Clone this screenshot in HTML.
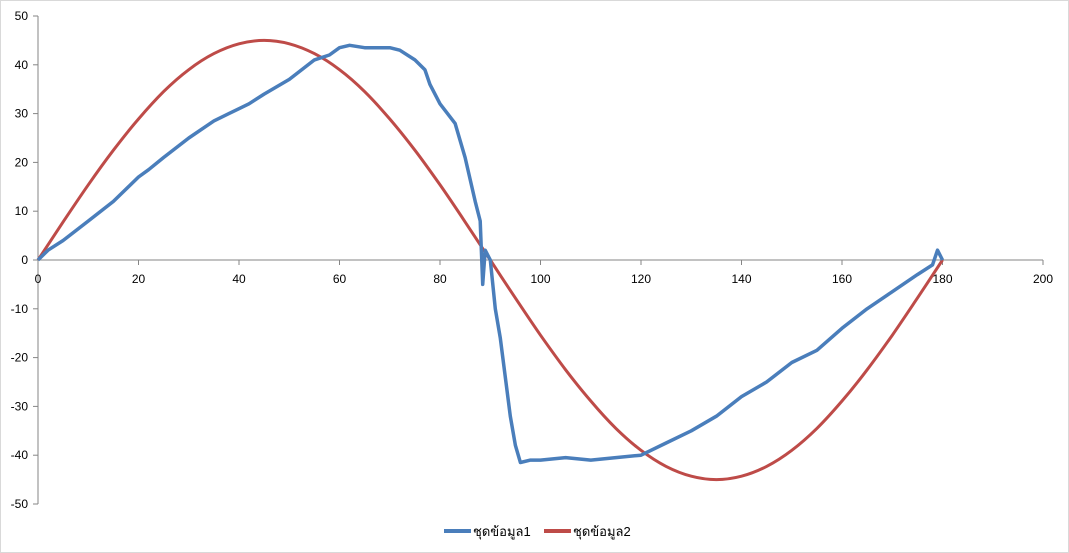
<!DOCTYPE html>
<html><head><meta charset="utf-8"><style>
html,body{margin:0;padding:0;background:#fff}
svg{display:block;font-family:"Liberation Sans","DejaVu Sans",sans-serif}
</style></head><body>
<svg width="1069" height="553" viewBox="0 0 1069 553" xmlns="http://www.w3.org/2000/svg">
<rect x="0.5" y="0.5" width="1068" height="552" fill="#fff" stroke="#d9d9d9"/>
<g id="axes"></g><g id="series"></g>
<g>
<g><line x1="444" y1="531" x2="471" y2="531" stroke="#4a7ebb" stroke-width="4"/><text x="473" y="536" font-size="13" fill="#000">ชุดข้อมูล1</text></g>
<g><line x1="544" y1="531" x2="571" y2="531" stroke="#be4b48" stroke-width="4"/><text x="573" y="536" font-size="13" fill="#000">ชุดข้อมูล2</text></g>
</g>
</svg>
<script>
const xTicks=[0,20,40,60,80,100,120,140,160,180,200];
const yTicks=[50,40,30,20,10,0,-10,-20,-30,-40,-50];
const s1X=[0,2,5,10,15,20,22,25,30,35,38,40,42,45,50,55,58,60,62,65,70,72,75,77,78,80,83,85,87,88,88.5,89,90,91,92,93,94,95,96,98,100,105,110,115,120,125,130,135,140,145,150,155,160,165,170,175,178,179,180];
const s1Y=[0,2,4,8,12,17,18.5,21,25,28.5,30,31,32,34,37,41,42,43.5,44,43.5,43.5,43,41,39,36,32,28,21,12,8,-5,2,0,-10,-16,-24,-32,-38,-41.5,-41,-41,-40.5,-41,-40.5,-40,-37.5,-35,-32,-28,-25,-21,-18.5,-14,-10,-6.5,-3,-1,2,0];
const s2X=[0,5,10,15,20,25,30,35,40,45,50,55,60,65,70,75,80,85,90,95,100,105,110,115,120,125,130,135,140,145,150,155,160,165,170,175,180];
const s2Y=[0,7.8,15.4,22.5,28.9,34.5,39,42.3,44.3,45,44.3,42.3,39,34.5,28.9,22.5,15.4,7.8,0,-7.8,-15.4,-22.5,-28.9,-34.5,-39,-42.3,-44.3,-45,-44.3,-42.3,-39,-34.5,-28.9,-22.5,-15.4,-7.8,0];
const NS="http://www.w3.org/2000/svg";
const X0=38,X1=1043,Y0=16,Y1=504;
const sx=v=>X0+(v-0)/(200-0)*(X1-X0);
const sy=v=>Y0+(50-v)/100*(Y1-Y0);
const axes=document.getElementById('axes'),ser=document.getElementById('series');
function mk(tag,attrs,parent){const e=document.createElementNS(NS,tag);for(const k in attrs)e.setAttribute(k,attrs[k]);parent.appendChild(e);return e;}
const ya=mk('line',{x1:X0,y1:Y0,x2:X0,y2:Y1,stroke:'#868686'},axes);


const xa=mk('line',{x1:X0,y1:sy(0),x2:X1,y2:sy(0),stroke:'#868686'},axes);


yTicks.forEach(v=>{
 mk('line',{x1:X0-5,y1:sy(v),x2:X0,y2:sy(v),stroke:'#868686'},axes);
 const t=mk('text',{x:28,y:sy(v)+4,'text-anchor':'end','font-size':'12',fill:'#000'},axes);
 t.textContent=v;
 
 
});
xTicks.forEach(v=>{
 mk('line',{x1:sx(v),y1:sy(0),x2:sx(v),y2:sy(0)+5,stroke:'#868686'},axes);
 const t=mk('text',{x:sx(v),y:sy(0)+23,'text-anchor':'middle','font-size':'12',fill:'#000'},axes);
 t.textContent=v;
 
 
});
function path(xs,ys){return xs.map((x,i)=>(i?'L':'M')+sx(x).toFixed(1)+','+sy(ys[i]).toFixed(1)).join('');}
function smooth(xs,ys){
 const P=xs.map((x,i)=>[sx(x),sy(ys[i])]);
 let d='M'+P[0][0].toFixed(1)+','+P[0][1].toFixed(1);
 for(let i=0;i<P.length-1;i++){
  const p0=P[Math.max(i-1,0)],p1=P[i],p2=P[i+1],p3=P[Math.min(i+2,P.length-1)];
  const c1=[p1[0]+(p2[0]-p0[0])/6,p1[1]+(p2[1]-p0[1])/6];
  const c2=[p2[0]-(p3[0]-p1[0])/6,p2[1]-(p3[1]-p1[1])/6];
  d+='C'+c1[0].toFixed(1)+','+c1[1].toFixed(1)+' '+c2[0].toFixed(1)+','+c2[1].toFixed(1)+' '+p2[0].toFixed(1)+','+p2[1].toFixed(1);
 }
 return d;
}
const p2=mk('path',{d:smooth(s2X,s2Y),fill:'none',stroke:'#be4b48','stroke-width':3,'stroke-linejoin':'round'},ser);


const p1=mk('path',{d:path(s1X,s1Y),fill:'none',stroke:'#4a7ebb','stroke-width':3.5,'stroke-linejoin':'round'},ser);


</script>
</body></html>
